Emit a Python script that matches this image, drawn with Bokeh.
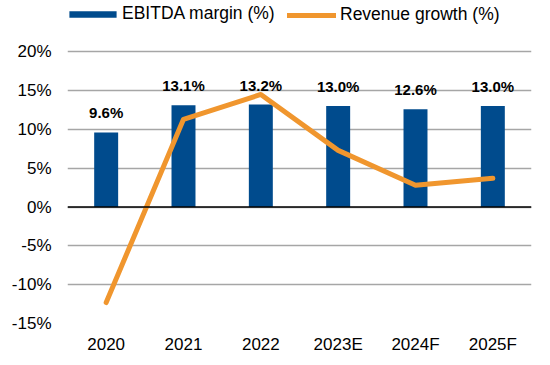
from bokeh.plotting import figure
from bokeh.models import (ColumnDataSource, FactorRange, FixedTicker, PrintfTickFormatter,
                          Legend, LegendItem, Span, Range1d)
from bokeh.core.properties import value
from bokeh.embed import file_html
from bokeh.resources import INLINE

years = ["2020", "2021", "2022", "2023E", "2024F", "2025F"]
ebitda_margin = [9.6, 13.1, 13.2, 13.0, 12.6, 13.0]
revenue_growth = [-12.3, 11.3, 14.5, 7.3, 2.8, 3.7]
margin_labels = ["9.6%", "13.1%", "13.2%", "13.0%", "12.6%", "13.0%"]
y_ticks = [-15, -10, -5, 0, 5, 10, 15, 20]

BLUE = "#004B8D"
ORANGE = "#F0962E"
FONT = "Liberation Sans"

src = ColumnDataSource(dict(x=years, m=ebitda_margin, g=revenue_growth, lab=margin_labels))

# Frame extends up to the top of the page (blank headroom holds the legend);
# the value axis shows -15% .. 20%.
p = figure(x_range=FactorRange(*years, range_padding=0), y_range=Range1d(-15, 26.6),
           width=550, height=365, output_backend="svg", toolbar_location=None,
           min_border_left=67, min_border_right=19, min_border_top=0, min_border_bottom=42)
p.outline_line_color = None
p.background_fill_color = "white"

p.xgrid.grid_line_color = None
p.ygrid.grid_line_color = "#A6A6A6"
p.ygrid.grid_line_width = 1.5
p.yaxis.ticker = FixedTicker(ticks=y_ticks)
p.yaxis.formatter = PrintfTickFormatter(format="%d%%")

for ax in (p.xaxis[0], p.yaxis[0]):
    ax.axis_line_color = None
    ax.major_tick_line_color = None
    ax.minor_tick_line_color = None
    ax.major_tick_out = 0
    ax.major_tick_in = 0
    ax.minor_tick_out = 0
    ax.minor_tick_in = 0
    ax.major_label_text_font = FONT
    ax.major_label_text_font_size = "17px"
    ax.major_label_text_color = "#000000"
p.xaxis.major_label_standoff = 11
p.yaxis.major_label_standoff = 16

bars = p.vbar(x="x", top="m", width=0.31, source=src, fill_color=BLUE, line_color=None)
p.add_layout(Span(location=0, dimension="width", line_color="black", line_width=1.5))
line = p.line(x="x", y="g", source=src, line_color=ORANGE, line_width=5, line_cap="round",
              line_join="round")
p.text(x="x", y="m", text="lab", source=src, y_offset=-11, text_align="center",
       text_baseline="bottom", text_font=value(FONT), text_font_size="15px",
       text_font_style="bold", text_color="#000000")

common = dict(orientation="horizontal", padding=0, margin=0, border_line_color=None,
              background_fill_alpha=0, label_height=20, label_text_font=FONT,
              label_text_font_size="17.5px", label_text_color="#000000")
legend_bar = Legend(items=[LegendItem(label="EBITDA margin (%)", renderers=[bars])],
                    location=(-4, 299), glyph_width=59, glyph_height=8, label_standoff=0,
                    **common)
legend_line = Legend(items=[LegendItem(label="Revenue growth (%)", renderers=[line])],
                     location=(220, 298), glyph_width=49, glyph_height=8, label_standoff=4,
                     **common)
p.add_layout(legend_bar, "center")
p.add_layout(legend_line, "center")

open("out.html", "w").write(file_html(p, INLINE))
